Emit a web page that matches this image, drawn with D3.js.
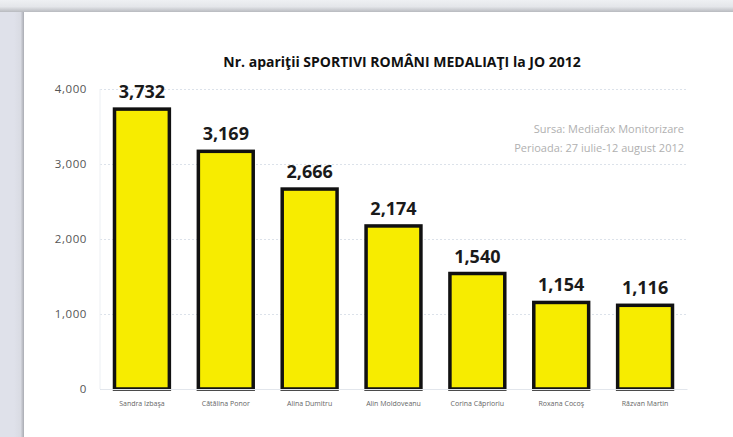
<!DOCTYPE html>
<html>
<head>
<meta charset="utf-8">
<script src="https://cdn.jsdelivr.net/npm/d3@7"></script>
<style>
  html, body { margin: 0; padding: 0; background: #dfe1ea; overflow: hidden; }
  svg { display: block; }
</style>
</head>
<body>
<svg id="chart"></svg>
<script>
const athletes = ["Sandra Izbaşa", "Cătălina Ponor", "Alina Dumitru", "Alin Moldoveanu",
                  "Corina Căprioriu", "Roxana Cocoş", "Răzvan Martin"];
const appearances = [3732, 3169, 2666, 2174, 1540, 1154, 1116];
const yTicks = [0, 1000, 2000, 3000, 4000];
const titleText = "Nr. apariţii SPORTIVI ROMÂNI MEDALIAŢI la JO 2012";
const sourceLines = ["Sursa: Mediafax Monitorizare", "Perioada: 27 iulie-12 august 2012"];

const data = athletes.map((name, i) => ({ name, value: appearances[i] }));

const W = 733, H = 437;
const svg = d3.select("#chart").attr("width", W).attr("height", H);

// page background: gray frame with a soft shadow on the panel's top and left edges
const defs = svg.append("defs");
const topGrad = defs.append("linearGradient").attr("id", "topg")
    .attr("x1", 0).attr("y1", 0).attr("x2", 0).attr("y2", 1);
topGrad.append("stop").attr("offset", "0%").attr("stop-color", "#eef0f3");
topGrad.append("stop").attr("offset", "55%").attr("stop-color", "#e4e6ea");
topGrad.append("stop").attr("offset", "100%").attr("stop-color", "#b8babf");
const leftGrad = defs.append("linearGradient").attr("id", "leftg")
    .attr("x1", 0).attr("y1", 0).attr("x2", 1).attr("y2", 0);
leftGrad.append("stop").attr("offset", "0%").attr("stop-color", "#dfe1ea");
leftGrad.append("stop").attr("offset", "65%").attr("stop-color", "#d9dbe3");
leftGrad.append("stop").attr("offset", "100%").attr("stop-color", "#a9abb2");

svg.append("rect").attr("x", 0).attr("y", 0).attr("width", W).attr("height", 12).attr("fill", "url(#topg)");
svg.append("rect").attr("x", 14).attr("y", 12).attr("width", 10).attr("height", H).attr("fill", "url(#leftg)");
svg.append("rect")
    .attr("x", 24).attr("y", 12)
    .attr("width", W).attr("height", H)
    .attr("fill", "#ffffff");

const margin = { top: 89, left: 100, right: 46, bottom: 48 };
const width = W - margin.left - margin.right,
      height = H - margin.top - margin.bottom;

const g = svg.append("g").attr("transform", `translate(${margin.left},${margin.top})`);

const x = d3.scaleBand().domain(athletes).range([0, width]).paddingInner(0.31).paddingOuter(0.155);
const y = d3.scaleLinear().domain([0, 4000]).range([height, 0]);

// gridlines
g.append("g")
    .call(d3.axisLeft(y).tickValues(yTicks).tickSize(-width).tickFormat(""))
    .call(a => a.select(".domain").remove())
    .selectAll("line")
    .attr("stroke", "#dce2ea")
    .attr("stroke-dasharray", "2,2");

// left axis line
g.append("line").attr("x1", 0).attr("x2", 0).attr("y1", 0).attr("y2", height)
    .attr("stroke", "#eceff3");

// y tick labels
g.append("g")
    .call(d3.axisLeft(y).tickValues(yTicks).tickSize(0).tickPadding(13).tickFormat(d3.format(",")))
    .call(a => a.select(".domain").remove())
    .selectAll("text")
    .style("font-family", "'Open Sans', sans-serif")
    .style("font-size", "11.5px")
    .style("letter-spacing", "0.6px")
    .attr("fill", "#555");

// bars
g.selectAll(".bar")
    .data(data)
    .enter().append("rect")
    .attr("class", "bar")
    .attr("x", d => x(d.name) + 1.5)
    .attr("y", d => y(d.value))
    .attr("width", x.bandwidth() - 3)
    .attr("height", d => height - y(d.value))
    .attr("fill", "#f7ec00")
    .attr("stroke", "#111")
    .attr("stroke-width", 3.5);

// value labels
g.selectAll(".label")
    .data(data)
    .enter().append("text")
    .attr("class", "label")
    .attr("x", d => x(d.name) + x.bandwidth() / 2)
    .attr("y", d => y(d.value) - 11)
    .attr("text-anchor", "middle")
    .style("font-family", "'Open Sans', sans-serif")
    .style("font-weight", "bold")
    .style("font-size", "18px")
    .attr("fill", "#1a1a1a")
    .text(d => d3.format(",")(d.value));

// x labels
g.append("g")
    .attr("transform", `translate(0,${height})`)
    .call(d3.axisBottom(x).tickSize(0).tickPadding(12))
    .call(a => a.select(".domain").attr("stroke", "#e2e6ec"))
    .selectAll("text")
    .style("font-family", "'Open Sans', sans-serif")
    .style("font-size", "7px")
    .attr("fill", "#666");

// title
svg.append("text")
    .attr("x", 402)
    .attr("y", 67)
    .attr("text-anchor", "middle")
    .style("font-family", "'Open Sans', sans-serif")
    .style("font-weight", "bold")
    .style("font-size", "14px")
    .attr("fill", "#111")
    .text(titleText);

// source note
svg.append("g").selectAll("text")
    .data(sourceLines)
    .enter().append("text")
    .attr("x", 684)
    .attr("y", (d, i) => 133 + i * 19)
    .attr("text-anchor", "end")
    .style("font-family", "'Open Sans', sans-serif")
    .style("font-size", "11px")
    .attr("fill", "#b0b0b0")
    .text(d => d);
</script>
</body>
</html>
